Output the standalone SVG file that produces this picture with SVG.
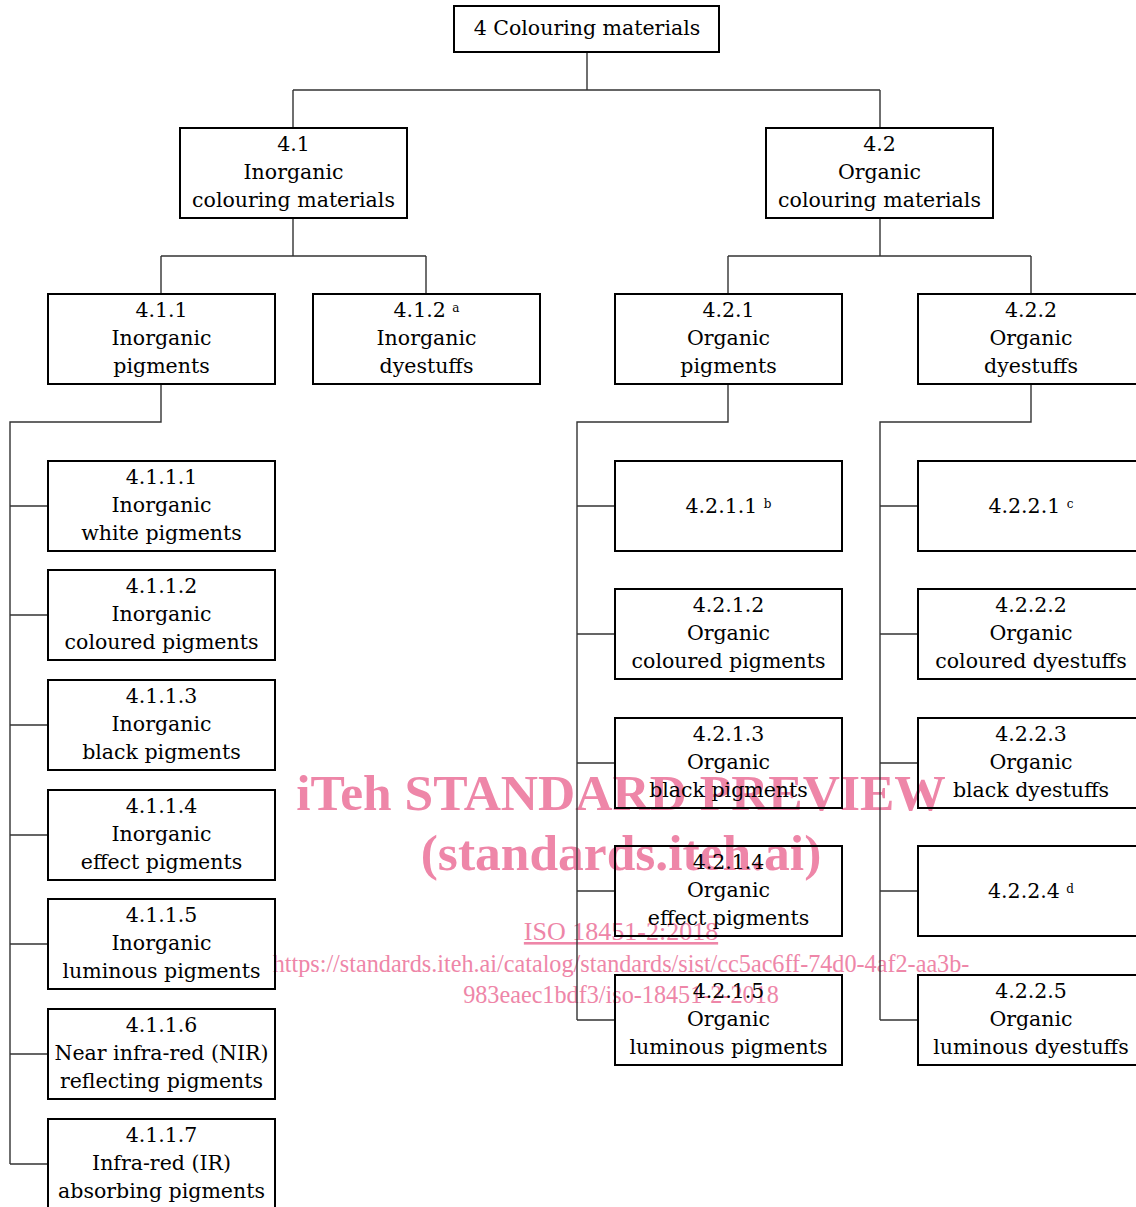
<svg xmlns="http://www.w3.org/2000/svg" width="1136" height="1207" viewBox="0 0 1136 1207">
<style>
.box{fill:none;stroke:#000;stroke-width:2}
.t{font-family:"DejaVu Serif","Liberation Serif",serif;font-size:20.5px;fill:#000;text-anchor:middle}
.sup{font-size:12px}
.con{fill:none;stroke:#333;stroke-width:1.4}
.wm{font-family:"Liberation Serif",serif;fill:#ee86a8;text-anchor:middle}
</style>
<g id="watermark">
<text class="wm" x="621" y="810" font-size="51.5" font-weight="bold">iTeh STANDARD PREVIEW</text>
<text class="wm" x="621" y="870" font-size="51.5" font-weight="bold">(standards.iteh.ai)</text>
<text class="wm" x="621" y="940" font-size="26" text-decoration="underline">ISO 18451-2:2018</text>
<text class="wm" x="621" y="972" font-size="24.2">https://standards.iteh.ai/catalog/standards/sist/cc5ac6ff-74d0-4af2-aa3b-</text>
<text class="wm" x="621" y="1003" font-size="24.2">983eaec1bdf3/iso-18451-2-2018</text>
</g>
<g id="connectors">
<path class="con" d="M587,52V90M293,90H880M293,90V128M880,90V128"/>
<path class="con" d="M293,218V256M161,256H426M161,256V294M426,256V294"/>
<path class="con" d="M880,218V256M728,256H1031M728,256V294M1031,256V294"/>
<path class="con" d="M161,384V422H10V1164M10,506H48M10,615H48M10,725H48M10,835H48M10,944H48M10,1054H48M10,1164H48"/>
<path class="con" d="M728,384V422H577V1020M577,506H615M577,634H615M577,763H615M577,891H615M577,1020H615"/>
<path class="con" d="M1031,384V422H880V1020M880,506H918M880,634H918M880,763H918M880,891H918M880,1020H918"/>
</g>
<g id="n4"><rect class="box" x="454" y="6" width="265" height="46"/><text class="t" x="587" y="35">4 Colouring materials</text></g>
<g id="n4-1"><rect class="box" x="180" y="128" width="227" height="90"/><text class="t" x="293.5" y="151">4.1</text><text class="t" x="293.5" y="179">Inorganic</text><text class="t" x="293.5" y="207">colouring materials</text></g>
<g id="n4-2"><rect class="box" x="766" y="128" width="227" height="90"/><text class="t" x="879.5" y="151">4.2</text><text class="t" x="879.5" y="179">Organic</text><text class="t" x="879.5" y="207">colouring materials</text></g>
<g id="n4-1-1"><rect class="box" x="48" y="294" width="227" height="90"/><text class="t" x="161.5" y="317">4.1.1</text><text class="t" x="161.5" y="345">Inorganic</text><text class="t" x="161.5" y="373">pigments</text></g>
<g id="n4-1-2"><rect class="box" x="313" y="294" width="227" height="90"/><text class="t" x="426.5" y="317">4.1.2 <tspan class="sup" dy="-5">a</tspan></text><text class="t" x="426.5" y="345">Inorganic</text><text class="t" x="426.5" y="373">dyestuffs</text></g>
<g id="n4-2-1"><rect class="box" x="615" y="294" width="227" height="90"/><text class="t" x="728.5" y="317">4.2.1</text><text class="t" x="728.5" y="345">Organic</text><text class="t" x="728.5" y="373">pigments</text></g>
<g id="n4-2-2"><rect class="box" x="918" y="294" width="227" height="90"/><text class="t" x="1031" y="317">4.2.2</text><text class="t" x="1031" y="345">Organic</text><text class="t" x="1031" y="373">dyestuffs</text></g>
<g id="n4-1-1-1"><rect class="box" x="48" y="461" width="227" height="90"/><text class="t" x="161.5" y="484">4.1.1.1</text><text class="t" x="161.5" y="512">Inorganic</text><text class="t" x="161.5" y="540">white pigments</text></g>
<g id="n4-1-1-2"><rect class="box" x="48" y="570" width="227" height="90"/><text class="t" x="161.5" y="593">4.1.1.2</text><text class="t" x="161.5" y="621">Inorganic</text><text class="t" x="161.5" y="649">coloured pigments</text></g>
<g id="n4-1-1-3"><rect class="box" x="48" y="680" width="227" height="90"/><text class="t" x="161.5" y="703">4.1.1.3</text><text class="t" x="161.5" y="731">Inorganic</text><text class="t" x="161.5" y="759">black pigments</text></g>
<g id="n4-1-1-4"><rect class="box" x="48" y="790" width="227" height="90"/><text class="t" x="161.5" y="813">4.1.1.4</text><text class="t" x="161.5" y="841">Inorganic</text><text class="t" x="161.5" y="869">effect pigments</text></g>
<g id="n4-1-1-5"><rect class="box" x="48" y="899" width="227" height="90"/><text class="t" x="161.5" y="922">4.1.1.5</text><text class="t" x="161.5" y="950">Inorganic</text><text class="t" x="161.5" y="978">luminous pigments</text></g>
<g id="n4-1-1-6"><rect class="box" x="48" y="1009" width="227" height="90"/><text class="t" x="161.5" y="1032">4.1.1.6</text><text class="t" x="161.5" y="1060">Near infra-red (NIR)</text><text class="t" x="161.5" y="1088">reflecting pigments</text></g>
<g id="n4-1-1-7"><rect class="box" x="48" y="1119" width="227" height="90"/><text class="t" x="161.5" y="1142">4.1.1.7</text><text class="t" x="161.5" y="1170">Infra-red (IR)</text><text class="t" x="161.5" y="1198">absorbing pigments</text></g>
<g id="n4-2-1-1"><rect class="box" x="615" y="461" width="227" height="90"/><text class="t" x="728.5" y="513">4.2.1.1 <tspan class="sup" dy="-5">b</tspan></text></g>
<g id="n4-2-1-2"><rect class="box" x="615" y="589" width="227" height="90"/><text class="t" x="728.5" y="612">4.2.1.2</text><text class="t" x="728.5" y="640">Organic</text><text class="t" x="728.5" y="668">coloured pigments</text></g>
<g id="n4-2-1-3"><rect class="box" x="615" y="718" width="227" height="90"/><text class="t" x="728.5" y="741">4.2.1.3</text><text class="t" x="728.5" y="769">Organic</text><text class="t" x="728.5" y="797">black pigments</text></g>
<g id="n4-2-1-4"><rect class="box" x="615" y="846" width="227" height="90"/><text class="t" x="728.5" y="869">4.2.1.4</text><text class="t" x="728.5" y="897">Organic</text><text class="t" x="728.5" y="925">effect pigments</text></g>
<g id="n4-2-1-5"><rect class="box" x="615" y="975" width="227" height="90"/><text class="t" x="728.5" y="998">4.2.1.5</text><text class="t" x="728.5" y="1026">Organic</text><text class="t" x="728.5" y="1054">luminous pigments</text></g>
<g id="n4-2-2-1"><rect class="box" x="918" y="461" width="227" height="90"/><text class="t" x="1031" y="513">4.2.2.1 <tspan class="sup" dy="-5">c</tspan></text></g>
<g id="n4-2-2-2"><rect class="box" x="918" y="589" width="227" height="90"/><text class="t" x="1031" y="612">4.2.2.2</text><text class="t" x="1031" y="640">Organic</text><text class="t" x="1031" y="668">coloured dyestuffs</text></g>
<g id="n4-2-2-3"><rect class="box" x="918" y="718" width="227" height="90"/><text class="t" x="1031" y="741">4.2.2.3</text><text class="t" x="1031" y="769">Organic</text><text class="t" x="1031" y="797">black dyestuffs</text></g>
<g id="n4-2-2-4"><rect class="box" x="918" y="846" width="227" height="90"/><text class="t" x="1031" y="898">4.2.2.4 <tspan class="sup" dy="-5">d</tspan></text></g>
<g id="n4-2-2-5"><rect class="box" x="918" y="975" width="227" height="90"/><text class="t" x="1031" y="998">4.2.2.5</text><text class="t" x="1031" y="1026">Organic</text><text class="t" x="1031" y="1054">luminous dyestuffs</text></g>
</svg>
